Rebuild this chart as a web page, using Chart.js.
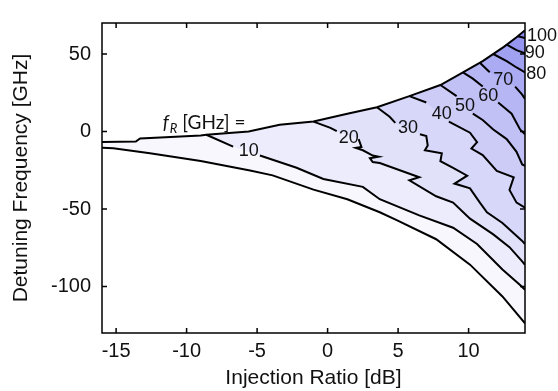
<!DOCTYPE html>
<html>
<head>
<meta charset="utf-8">
<script src="https://cdn.jsdelivr.net/npm/chart.js@4.4.1/dist/chart.umd.min.js"></script>
<style>html,body{margin:0;background:#fff}</style>
</head>
<body>
<canvas id="myChart" width="558" height="391"></canvas>
<script>
// axis ticks
const xTicks = [-15, -10, -5, 0, 5, 10];
const yTicks = [-100, -50, 0, 50];

// locking boundaries [injection ratio dB, detuning GHz]
const upper = [[-16,-6.7],[-13.6,-6.5],[-13.3,-4.5],[-11.5,-3.7],[-9,-2.6],[-8.6,-2.1],[-5.6,0],[-3.4,4.3],[-1,6.4],[1.4,11.5],[3.5,15.6],[5.8,22.8],[8,30],[9.6,38.2],[11,45.4],[12.5,54.6],[13.4,60.8],[14,65.3]];
const lower = [[-16,-10.5],[-15.2,-10.8],[-12.6,-14.1],[-9,-19],[-5.5,-25.2],[-3.9,-28.3],[-1,-37.5],[1.4,-43.7],[3.7,-52.1],[4.9,-57.2],[7.7,-69.5],[10.1,-85.9],[12.4,-106.4],[14,-123.7]];

// fR contour lines (null = break for the inline label)
const levels = [10, 20, 30, 40, 50, 60, 70, 80, 90, 100];
const c10 = [[-8.6,-2.1],[-6.7,-9.8],null,[-4.8,-15.5],[-2.2,-23.4],[-0.3,-30.6],[2.5,-35.7],[3.7,-43.7],[6.5,-54.1],[8.9,-62.1],[10.6,-72.6],[12.4,-89],[13.65,-99],[14,-102.1]];
const c20 = [[-1,6.4],[0.2,2.3],[0.65,0.2],null,[2.2,-4.9],[2.4,-10],[2,-10.6],[2.5,-12.1],[3.2,-15.5],[3.6,-16.2],[3,-17.2],[3.2,-19.7],[3.7,-20.3],[6.5,-29.5],[5.8,-31.5],[7.7,-41.8],[8.9,-45.9],[10.1,-56.2],[11.75,-66.4],[12.9,-74.6],[13.8,-83.8],[14,-86.1]];
const c30 = [[3.5,15.6],[4.4,9.5],[4.8,5.6],null,[6.55,-1.8],[7,-2.9],[7.1,-9],[6.9,-12.1],[8.1,-14.1],[8,-19.2],[8.9,-23.4],[9.9,-28.5],[9,-33.6],[10.1,-36.7],[10.8,-45.9],[11.3,-52.1],[12.4,-59],[13.8,-70.6],[14,-72.6]];
const c40 = [[5.8,22.8],[7,18.7],null,[8.6,6.4],[10.1,-0.8],[10.6,-6.9],[10.2,-11],[11,-15.2],[12,-25.4],[13.2,-29.5],[12.9,-37.7],[13.4,-45.9],[14,-49.2]];
const c50 = [[8,30],[9.15,22.8],null,[10.3,11.5],[11,7.4],[11.75,1.3],[12.7,-4.9],[13.4,-13.1],[13.8,-21.3],[14,-22.1]];
const c60 = [[9.6,38.2],[10.3,34.1],[11,29],null,[12.1,18.7],[13.05,11.5],[13.65,1.3],[14,-1.8]];
const c70 = [[10.8,44.4],[11.5,38.2],null,[13.3,29],[13.8,23.8],[14,21]];
const c80 = [[11.75,50],[12.7,45.4],[13.4,41.3],[14,38.2]];
const c90 = [[12.7,56],[13.4,52.5],[14,50.5]];
const c100 = [[13.5,61.5],[14,60.3]];
const contours = [c10, c20, c30, c40, c50, c60, c70, c80, c90, c100];

// where each level's number sits
const labelPos = [[-5.6,-12.3],[1.5,-3.9],[5.7,2.3],[8.1,11.5],[9.75,16.6],[11.4,22.8],[12.45,33.1],[14.8,37.1],[14.7,50.5],[15.2,61.8]];

const toXY = pts => pts.map(p => p ? {x: p[0], y: p[1]} : {x: null, y: null});

function bandColor(i) {
    const rg = Math.round(247 - 10.8 * i);
    const b = Math.round(253 - 1.5 * i);
    return `rgb(${rg},${rg},${b})`;
}

// polygon above a contour: contour, then up the right edge and back along the upper boundary
function region(c) {
    const pts = c.filter(p => p);
    const x0 = pts[0][0];
    const back = upper.filter(p => p[0] > x0 + 1e-6).reverse();
    return pts.concat(back);
}

let datasets = [];
for (let i = contours.length - 1; i >= 0; i--) {
    datasets.push({data: toXY(region(contours[i])), showLine: true, borderWidth: 0, pointRadius: 0,
        fill: 'shape', backgroundColor: bandColor(i + 1)});
}
datasets.push({data: toXY(lower.concat(upper.slice().reverse())), showLine: true, borderWidth: 0, pointRadius: 0,
    fill: 'shape', backgroundColor: bandColor(0)});

const lineStyle = {showLine: true, borderColor: '#000', borderWidth: 2, pointRadius: 0, fill: false, spanGaps: false};
datasets.push(Object.assign({data: toXY(upper)}, lineStyle));
datasets.push(Object.assign({data: toXY(lower)}, lineStyle));
contours.forEach(c => datasets.push(Object.assign({data: toXY(c)}, lineStyle)));

const decor = {
    id: 'decor',
    beforeDraw(chart) {
        const ctx = chart.ctx;
        ctx.save();
        ctx.fillStyle = '#fff';
        ctx.fillRect(0, 0, chart.width, chart.height);
        ctx.restore();
    },
    afterDraw(chart) {
        const {ctx, chartArea: a, scales: {x, y}} = chart;
        ctx.save();
        ctx.strokeStyle = '#000';
        ctx.lineWidth = 1.5;
        ctx.strokeRect(a.left, a.top, a.right - a.left, a.bottom - a.top);
        ctx.beginPath();
        xTicks.forEach(v => {
            const px = x.getPixelForValue(v);
            ctx.moveTo(px, a.bottom); ctx.lineTo(px, a.bottom - 5);
            ctx.moveTo(px, a.top); ctx.lineTo(px, a.top + 5);
        });
        yTicks.forEach(v => {
            const py = y.getPixelForValue(v);
            ctx.moveTo(a.left, py); ctx.lineTo(a.left + 5, py);
            ctx.moveTo(a.right, py); ctx.lineTo(a.right - 5, py);
        });
        ctx.stroke();

        // contour numbers
        ctx.fillStyle = '#111';
        ctx.font = '18px "Liberation Sans", Arial, sans-serif';
        ctx.textAlign = 'center';
        ctx.textBaseline = 'middle';
        levels.forEach((lv, i) => {
            ctx.fillText(String(lv), x.getPixelForValue(labelPos[i][0]), y.getPixelForValue(labelPos[i][1]));
        });

        // f_R [GHz] =
        let px = x.getPixelForValue(-11.7), py = y.getPixelForValue(1.8);
        ctx.textAlign = 'left';
        ctx.textBaseline = 'alphabetic';
        ctx.font = 'italic 19px Lato, sans-serif';
        ctx.fillText('f', px, py);
        px += ctx.measureText('f').width + 1;
        ctx.font = 'italic 13px Lato, sans-serif';
        ctx.fillText('R', px, py + 4);
        px += ctx.measureText('R').width;
        ctx.font = '19px Lato, sans-serif';
        ctx.fillText(' [GHz] =', px, py);
        ctx.restore();
    }
};

const tickFont = {family: '"Liberation Sans", Arial, sans-serif', size: 20};
const titleFont = {family: '"Liberation Sans", Arial, sans-serif', size: 21};

new Chart(document.getElementById('myChart').getContext('2d'), {
    type: 'scatter',
    data: {datasets: datasets},
    options: {
        responsive: false,
        animation: false,
        layout: {padding: {top: 8, right: 33, bottom: 0, left: 0}},
        plugins: {legend: {display: false}, tooltip: {enabled: false}, filler: {drawTime: 'beforeDatasetsDraw'}},
        scales: {
            x: {
                type: 'linear', min: -16, max: 14,
                grid: {display: false, drawTicks: false},
                border: {display: false},
                ticks: {color: '#111', font: tickFont, padding: 6, maxRotation: 0},
                afterBuildTicks: s => { s.ticks = xTicks.map(v => ({value: v})); },
                afterFit: s => { s.height = 58; },
                title: {display: true, text: 'Injection Ratio [dB]', color: '#111', font: titleFont, padding: 0}
            },
            y: {
                type: 'linear', min: -130, max: 70,
                grid: {display: false, drawTicks: false},
                border: {display: false},
                ticks: {color: '#111', font: tickFont, padding: 11},
                afterBuildTicks: s => { s.ticks = yTicks.map(v => ({value: v})); },
                afterFit: s => { s.width = 102; },
                title: {display: true, text: 'Detuning Frequency [GHz]', color: '#111', font: titleFont, padding: {top: 9, bottom: 0}}
            }
        }
    },
    plugins: [decor]
});
</script>
</body>
</html>
